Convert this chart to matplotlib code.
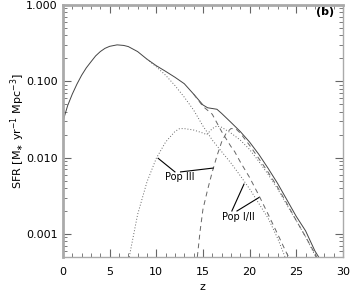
import matplotlib
matplotlib.use('Agg')
import matplotlib.pyplot as plt
from matplotlib.ticker import FixedLocator, LogLocator, MultipleLocator, NullFormatter

# total SFR (solid)
z_tot = [0, 0.5, 1, 1.5, 2, 2.5, 3, 3.5, 4, 4.5, 5, 5.8, 6.5, 7, 8, 9, 10, 11,
         12, 13, 14, 15, 15.5, 16, 16.5, 17, 18, 19, 20, 21, 22, 23, 24, 25,
         26, 27, 27.4]
sfr_tot = [0.03, 0.048, 0.068, 0.092, 0.12, 0.15, 0.18, 0.215, 0.245, 0.27,
           0.287, 0.30, 0.295, 0.285, 0.245, 0.195, 0.16, 0.135, 0.113, 0.093,
           0.068, 0.049, 0.045, 0.044, 0.043, 0.038, 0.029, 0.022, 0.016,
           0.011, 0.0072, 0.0046, 0.0028, 0.0017, 0.0011, 0.0006, 0.0005]

# Pop I/II, model A (dotted)
z_p2a = [9, 10, 11, 12, 13, 14, 15, 15.4, 16, 17, 18, 19, 20, 21, 22, 23, 23.8]
sfr_p2a = [0.195, 0.155, 0.12, 0.088, 0.062, 0.042, 0.026, 0.022, 0.017, 0.012,
           0.0085, 0.0058, 0.0039, 0.0025, 0.0016, 0.00088, 0.0005]

# Pop III, model A (dotted)
z_p3a = [7.1, 8, 9, 10, 11, 12, 12.5, 13, 14, 15, 15.4, 16, 16.5, 17, 18, 19,
         20, 21, 22, 23, 24, 25, 26, 27.1]
sfr_p3a = [0.0005, 0.0018, 0.0048, 0.0098, 0.016, 0.022, 0.024, 0.024, 0.023,
           0.021, 0.020, 0.024, 0.026, 0.025, 0.021, 0.017, 0.0128, 0.0089,
           0.006, 0.0039, 0.0024, 0.0015, 0.00092, 0.0005]

# Pop I/II, model B (dashed)
z_p2b = [14, 15, 16, 17, 18, 18.4, 19, 20, 21, 22, 23, 24, 24.2]
sfr_p2b = [0.068, 0.047, 0.037, 0.022, 0.014, 0.012, 0.0088, 0.0055, 0.0032,
           0.0018, 0.001, 0.00055, 0.0005]

# Pop III, model B (dashed)
z_p3b = [14.4, 14.7, 15, 15.5, 16, 16.5, 17, 17.5, 18, 18.5, 19, 20, 21, 22,
         23, 24, 25, 26, 27.2]
sfr_p3b = [0.0005, 0.0011, 0.0021, 0.0038, 0.0065, 0.0105, 0.016, 0.021, 0.024,
           0.024, 0.021, 0.0145, 0.0097, 0.0064, 0.0041, 0.0025, 0.0015,
           0.00092, 0.0005]

yticks = [0.001, 0.01, 0.1, 1.0]
ylabels = ['0.001', '0.010', '0.100', '1.000']
xticks = [0, 5, 10, 15, 20, 25, 30]

fig = plt.figure(figsize=(3.64, 2.91), dpi=100)
ax = fig.add_axes([0.173, 0.117, 0.769, 0.866])

ax.plot(z_tot, sfr_tot, color='#444444', lw=0.7, ls='-')
ax.plot(z_p2a, sfr_p2a, color='#666666', lw=0.7, ls=(0, (1, 2)))
ax.plot(z_p3a, sfr_p3a, color='#666666', lw=0.7, ls=(0, (1, 2)))
ax.plot(z_p2b, sfr_p2b, color='#666666', lw=0.7, ls=(0, (5, 4)))
ax.plot(z_p3b, sfr_p3b, color='#666666', lw=0.7, ls=(0, (5, 4)))

ax.set_yscale('log')
ax.set_xlim(0, 30)
ax.set_ylim(5e-4, 1.0)

ax.yaxis.set_major_locator(FixedLocator(yticks))
ax.set_yticklabels(ylabels)
ax.yaxis.set_minor_locator(LogLocator(base=10, subs=range(2, 10)))
ax.yaxis.set_minor_formatter(NullFormatter())
ax.xaxis.set_major_locator(FixedLocator(xticks))
ax.xaxis.set_minor_locator(MultipleLocator(1))

ax.tick_params(which='both', direction='in', top=True, right=True,
               labelsize=8, color='#666666')
ax.tick_params(axis='x', pad=7)
ax.tick_params(axis='y', pad=4)
ax.tick_params(which='major', length=6, width=0.8)
ax.tick_params(which='minor', length=3, width=0.6)

for side in ['left', 'top']:
    ax.spines[side].set_color('#aaaaaa')
    ax.spines[side].set_linewidth(2)
for side in ['right', 'bottom']:
    ax.spines[side].set_color('#aaaaaa')
    ax.spines[side].set_linewidth(1)

ax.set_xlabel('z', fontsize=8, labelpad=4)
ax.set_ylabel(r'SFR [M$_{\ast}$ yr$^{-1}$ Mpc$^{-3}$]', fontsize=8, labelpad=-1)

ax.text(0.936, 0.972, '(b)', transform=ax.transAxes, fontsize=8,
        fontweight='bold', ha='center', va='center')

# Pop III label and pointers
ax.text(12.5, 0.0056, 'Pop III', fontsize=7, ha='center', va='center')
ax.plot([10.2, 12.0], [0.0098, 0.0065], color='black', lw=0.8)
ax.plot([12.6, 16.1], [0.0065, 0.0073], color='black', lw=0.8)

# Pop I/II label and pointers
ax.text(18.75, 0.00166, 'Pop I/II', fontsize=7, ha='center', va='center')
ax.plot([18.1, 19.4], [0.0020, 0.0045], color='black', lw=0.8)
ax.plot([18.65, 21.0], [0.0020, 0.0030], color='black', lw=0.8)

fig.savefig('out.png', dpi=100)
